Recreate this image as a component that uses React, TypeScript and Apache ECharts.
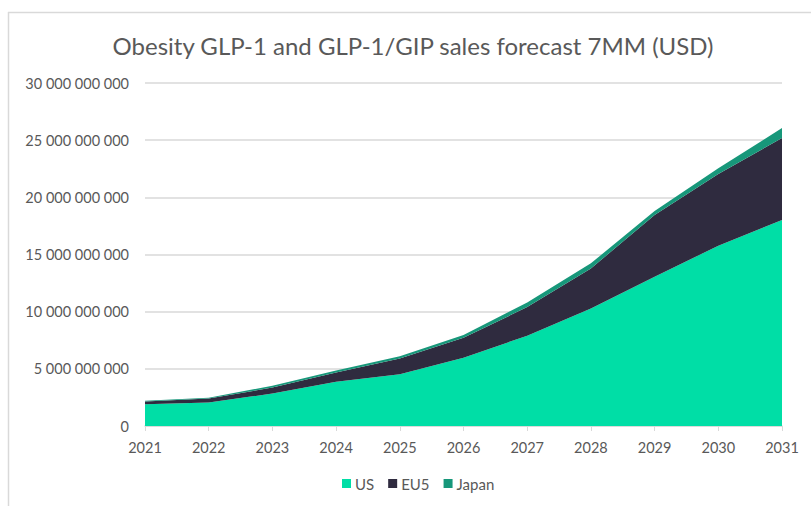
import React, { useEffect, useRef } from "react";
import * as echarts from "echarts";

const years = ["2021", "2022", "2023", "2024", "2025", "2026", "2027", "2028", "2029", "2030", "2031"];
const usSales = [1.9e9, 2.05e9, 2.84e9, 3.86e9, 4.53e9, 5.96e9, 7.9e9, 10.28e9, 13.05e9, 15.77e9, 18.02e9];
const eu5Sales = [0.25e9, 0.35e9, 0.52e9, 0.82e9, 1.37e9, 1.75e9, 2.5e9, 3.5e9, 5.4e9, 6.28e9, 7.16e9];
const japanSales = [0.05e9, 0.07e9, 0.17e9, 0.17e9, 0.2e9, 0.25e9, 0.4e9, 0.45e9, 0.35e9, 0.5e9, 0.88e9];

const FONT = "Lato";
const TEXT = "#595959";

function fmt(v: number) {
  return String(Math.round(v)).replace(/\B(?=(\d{3})+(?!\d))/g, " ");
}

export default function App() {
  const ref = useRef<HTMLDivElement>(null);
  useEffect(() => {
    if (!ref.current) return;
    const chart = echarts.init(ref.current, undefined, { renderer: "svg" });
    const mk = (name: string, data: number[], color: string) => ({
      name,
      type: "line",
      stack: "total",
      data,
      symbol: "none",
      smooth: false,
      lineStyle: { width: 0, color },
      itemStyle: { color },
      areaStyle: { color, opacity: 1 },
    });
    chart.setOption({
      animation: false,
      textStyle: { fontFamily: FONT },
      title: {
        text: "Obesity GLP-1 and GLP-1/GIP sales forecast 7MM (USD)",
        left: 408,
        textAlign: "center",
        top: 28,
        textStyle: { fontFamily: FONT, fontSize: 24, fontWeight: "normal", color: TEXT },
      },
      graphic: [
        { type: "line", shape: { x1: 8.5, y1: 12, x2: 8.5, y2: 506 }, style: { stroke: "#d9d9d9", lineWidth: 1.5 } },
        { type: "line", shape: { x1: 8, y1: 12.5, x2: 811, y2: 12.5 }, style: { stroke: "#d9d9d9", lineWidth: 1.5 } },
      ],
      legend: {
        bottom: 10,
        left: 337,
        itemWidth: 9,
        itemHeight: 9,
        itemGap: 14,
        icon: "rect",
        textStyle: { fontFamily: FONT, fontSize: 15, color: TEXT, padding: [0, 0, 0, -1] },
        data: ["US", "EU5", "Japan"],
      },
      grid: { left: 145, right: 29, top: 83, bottom: 80, containLabel: false },
      xAxis: {
        type: "category",
        data: years,
        boundaryGap: false,
        axisLine: { lineStyle: { color: "#d9d9d9", width: 1.5 } },
        axisTick: { show: true, length: 5, lineStyle: { color: "#d9d9d9" } },
        axisLabel: { fontFamily: FONT, fontSize: 14.5, color: TEXT, margin: 14 },
      },
      yAxis: {
        type: "value",
        min: 0,
        max: 30e9,
        interval: 5e9,
        axisLine: { show: false },
        axisTick: { show: false },
        splitLine: { lineStyle: { color: "#d9d9d9", width: 1.5 } },
        axisLabel: { fontFamily: FONT, fontSize: 14.5, color: TEXT, margin: 16, formatter: (v: number) => fmt(v) },
      },
      series: [
        mk("US", usSales, "#00DEA6"),
        mk("EU5", eu5Sales, "#2F2B3F"),
        mk("Japan", japanSales, "#17977A"),
      ],
    });
    return () => chart.dispose();
  }, []);
  return <div ref={ref} style={{ position: "absolute", left: 0, top: 0, width: 811, height: 506 }} />;
}
